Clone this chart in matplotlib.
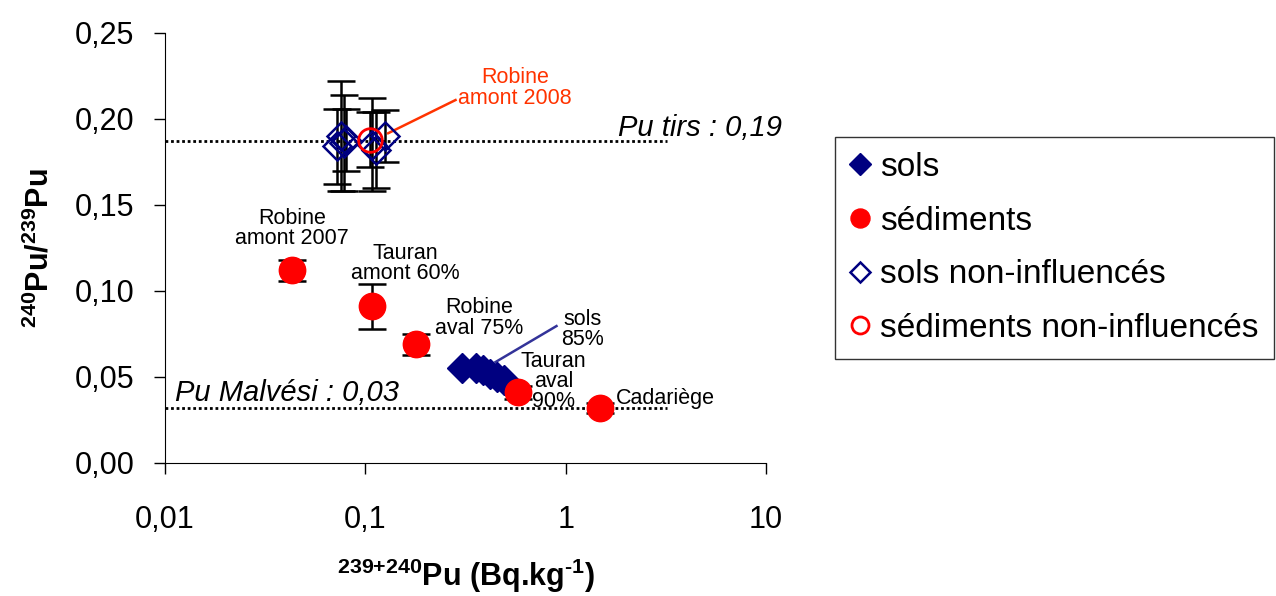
import matplotlib.pyplot as plt
import numpy as np

plt.rcParams['font.family'] = ['Liberation Sans', 'DejaVu Sans']
plt.rcParams['mathtext.fontset'] = 'custom'
plt.rcParams['mathtext.rm'] = 'Liberation Sans:bold'
plt.rcParams['mathtext.bf'] = 'Liberation Sans:bold'

## data
sols_x = [0.305, 0.355, 0.385, 0.42, 0.455, 0.49]
sols_y = [0.055, 0.055, 0.054, 0.052, 0.050, 0.048]

sed_labels = ['Robine\namont 2007', 'Tauran\namont 60%', 'Robine\naval 75%', 'Tauran\naval\n90%', 'Cadariège']
sed_x = [0.043, 0.108, 0.180, 0.575, 1.48]
sed_y = [0.112, 0.091, 0.069, 0.041, 0.032]
sed_err = [0.006, 0.013, 0.006, 0.004, 0.003]

solsni_x = [0.072, 0.076, 0.078, 0.080, 0.108, 0.113, 0.125]
solsni_y = [0.184, 0.190, 0.186, 0.188, 0.185, 0.182, 0.190]
solsni_err = [0.022, 0.032, 0.028, 0.018, 0.027, 0.022, 0.015]

sedni_x = [0.105]
sedni_y = [0.188]
sedni_err = [0.016]

pu_tirs = 0.187
pu_malvesi = 0.032
ref_line_end = 3.2

fig = plt.figure(figsize=(12.76, 5.96), dpi=100)
ax = fig.add_axes([0.1293, 0.2232, 0.471, 0.7215])

# reference lines
ax.plot([0.01, ref_line_end], [pu_tirs, pu_tirs], color='black', linestyle=(0, (1, 1)), lw=2)
ax.plot([0.01, ref_line_end], [pu_malvesi, pu_malvesi], color='black', linestyle=(0, (1, 1)), lw=2)
ax.text(1.82, 0.1945, 'Pu tirs : 0,19', fontsize=21, style='italic', va='center', ha='left')
ax.text(0.0112, 0.0405, 'Pu Malvési : 0,03', fontsize=21, style='italic', va='center', ha='left')

# error bars
ax.errorbar(solsni_x, solsni_y, yerr=solsni_err, fmt='none', ecolor='black', elinewidth=1.8, capsize=10, capthick=1.8, zorder=2)
ax.errorbar(sedni_x, sedni_y, yerr=sedni_err, fmt='none', ecolor='black', elinewidth=1.8, capsize=10, capthick=1.8, zorder=2)
ax.errorbar(sed_x, sed_y, yerr=sed_err, fmt='none', ecolor='black', elinewidth=1.8, capsize=10, capthick=1.8, zorder=2)

# markers
ax.plot(sols_x, sols_y, 'D', color='#000080', markersize=15, linestyle='none', label='sols', zorder=4)
ax.plot(sed_x, sed_y, 'o', color='#FF0000', markersize=19, linestyle='none', label='sédiments', zorder=5)
ax.plot(solsni_x, solsni_y, 'D', markerfacecolor='none', markeredgecolor='#000080', markeredgewidth=1.8,
        markersize=14, linestyle='none', label='sols non-influencés', zorder=4)
ax.plot(sedni_x, sedni_y, 'o', markerfacecolor='none', markeredgecolor='#FF0000', markeredgewidth=2,
        markersize=17, linestyle='none', label='sédiments non-influencés', zorder=5)

# labels of sediment points
offsets = [(0, 30), (24, 31), (45, 19), (26, 8), (47, 7)]
for lab, x, y, off in zip(sed_labels, sed_x, sed_y, offsets):
    ax.annotate(lab, xy=(x, y), xytext=off, textcoords='offset points',
                ha='center', va='center', fontsize=15.5, linespacing=0.95, zorder=6)

# leader lines and their labels
ax.plot([0.447, 0.90], [0.0587, 0.0796], color='#333399', lw=1.8, zorder=3)
ax.text(1.22, 0.0775, 'sols\n85%', ha='center', va='center', fontsize=15.5, linespacing=0.95)
ax.plot([0.130, 0.282], [0.1917, 0.211], color='#FF3300', lw=1.8, zorder=3)
ax.text(0.56, 0.218, 'Robine\namont 2008', ha='center', va='center', fontsize=15.5,
        linespacing=0.95, color='#FF3300')

ax.set_xscale('log')
ax.set_xlim(0.01, 10)
ax.set_ylim(0, 0.25)
ax.set_xticks([0.01, 0.1, 1, 10])
ax.set_xticklabels(['0,01', '0,1', '1', '10'])
ax.xaxis.set_minor_locator(plt.NullLocator())
yt = [0, 0.05, 0.10, 0.15, 0.20, 0.25]
ax.set_yticks(yt)
ax.set_yticklabels([('%.2f' % v).replace('.', ',') for v in yt])
ax.tick_params(axis='both', labelsize=22, length=8, width=1, direction='out')
ax.tick_params(axis='y', pad=14)
ax.tick_params(axis='x', pad=22)
ax.spines['top'].set_visible(False)
ax.spines['right'].set_visible(False)

ax.set_xlabel(r'$^{\text{239+240}}$Pu (Bq.kg$^{\text{-1}}$)', fontsize=22, fontweight='bold', labelpad=16)
ax.set_ylabel(r'$^{240}$Pu/$^{239}$Pu', fontsize=22, fontweight='bold', labelpad=14)

leg = ax.legend(loc='upper left', bbox_to_anchor=(1.115, 0.758), fontsize=24, frameon=True,
                fancybox=False, edgecolor='black', handlelength=0.6, handletextpad=0.3,
                labelspacing=0.68, borderpad=0.45, markerscale=0.72, borderaxespad=0)
leg.get_frame().set_linewidth(1)

fig.savefig('out.png', dpi=100)
